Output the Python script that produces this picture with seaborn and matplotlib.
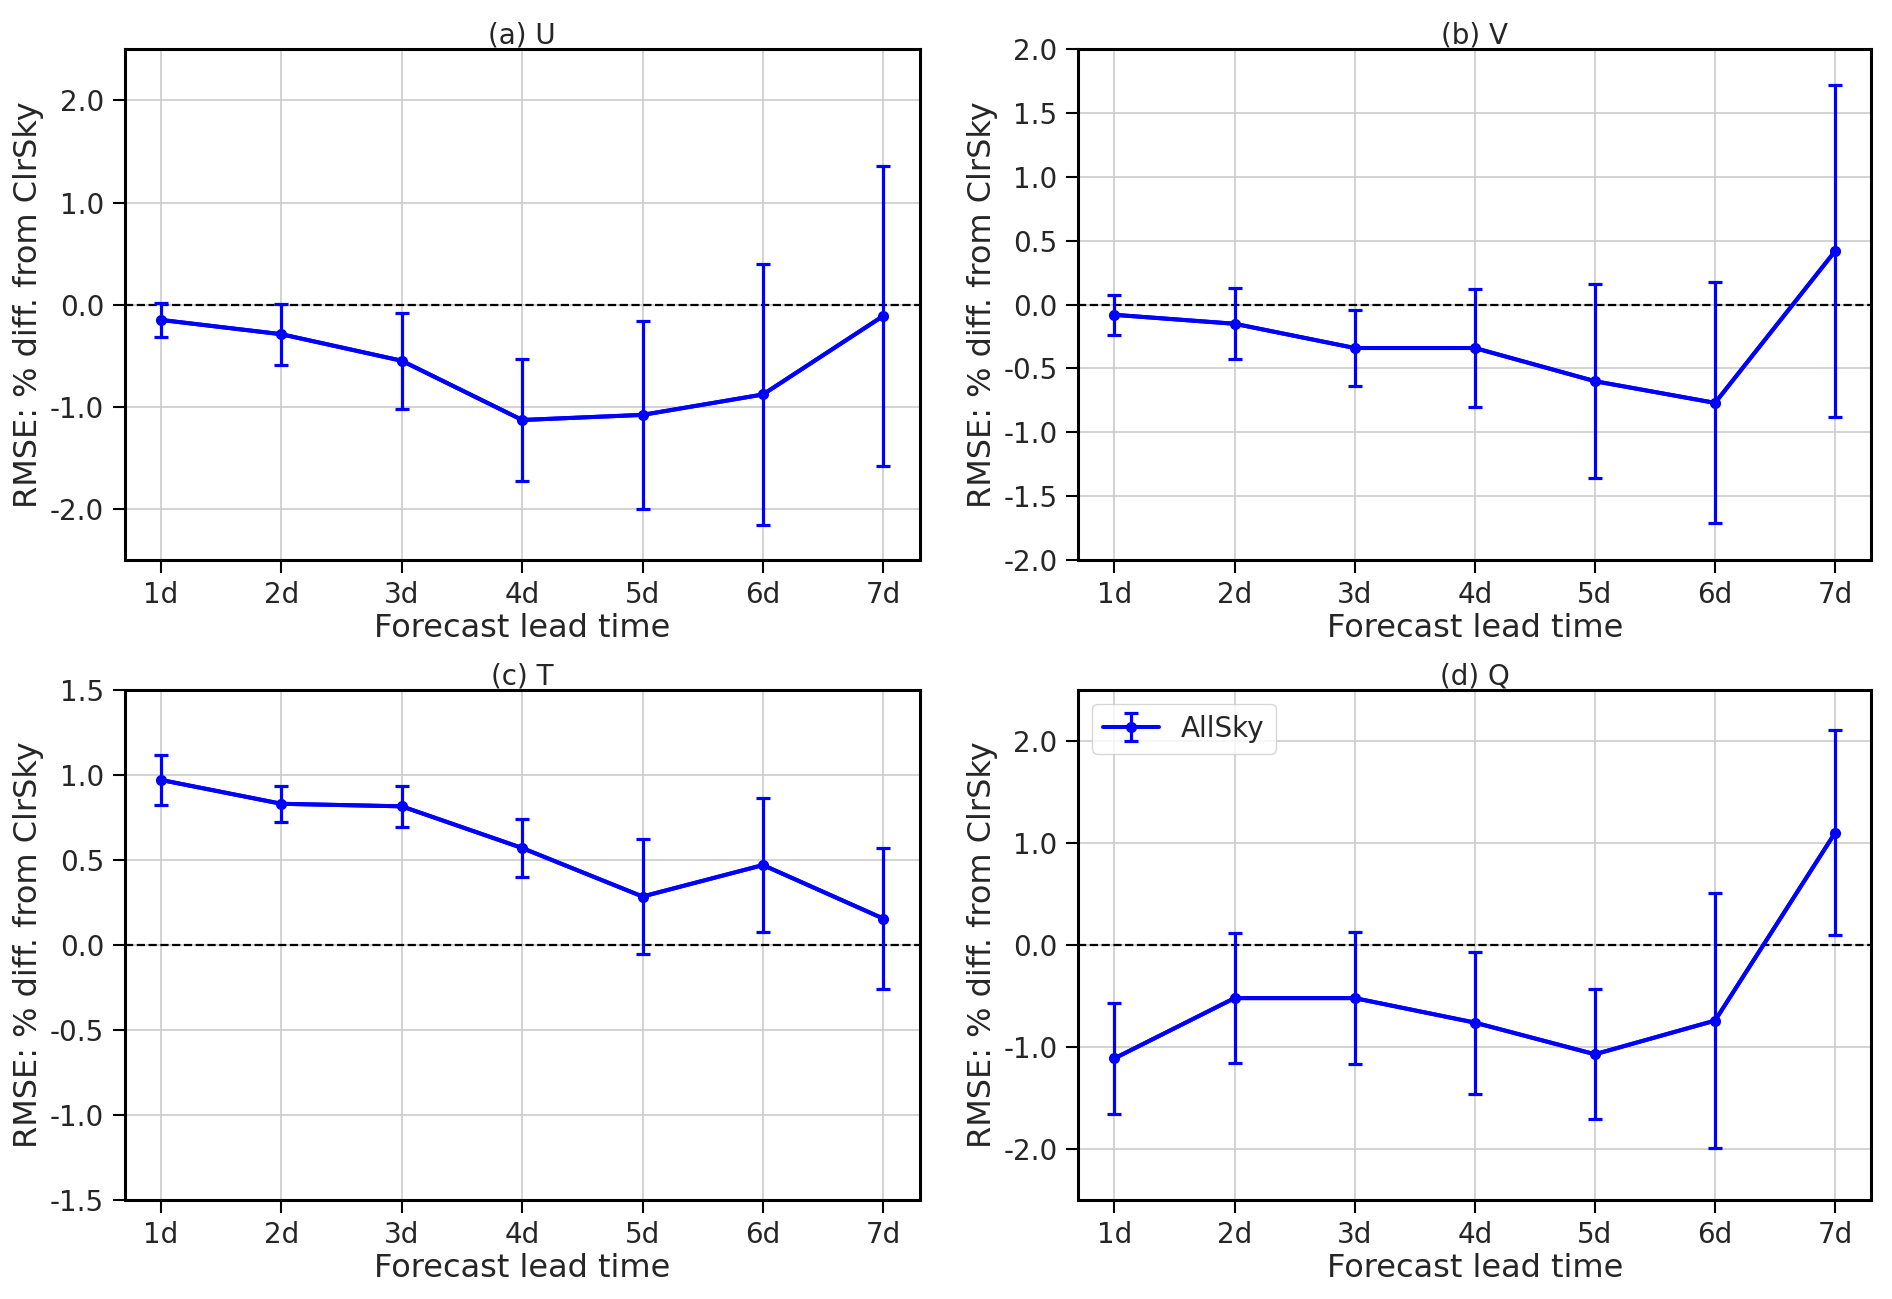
import numpy as np
import pandas as pd
import matplotlib
matplotlib.use("Agg")
import matplotlib.pyplot as plt
import seaborn as sns

lead_labels = ["1d", "2d", "3d", "4d", "5d", "6d", "7d"]
lead_pos = [1, 2, 3, 4, 5, 6, 7]

u_mean = [-0.15, -0.29, -0.55, -1.13, -1.08, -0.88, -0.11]
u_err = [0.17, 0.30, 0.47, 0.60, 0.92, 1.28, 1.47]

v_mean = [-0.08, -0.15, -0.34, -0.34, -0.60, -0.77, 0.42]
v_err = [0.155, 0.28, 0.295, 0.46, 0.76, 0.945, 1.30]

t_mean = [0.97, 0.83, 0.815, 0.57, 0.285, 0.47, 0.155]
t_err = [0.145, 0.105, 0.12, 0.17, 0.34, 0.395, 0.415]

q_mean = [-1.11, -0.52, -0.52, -0.76, -1.07, -0.74, 1.10]
q_err = [0.545, 0.64, 0.645, 0.695, 0.635, 1.245, 1.005]

titles = ["(a) U", "(b) V", "(c) T", "(d) Q"]
ylims = [(-2.5, 2.5), (-2.0, 2.0), (-1.5, 1.5), (-2.5, 2.5)]
ysteps = [1.0, 0.5, 0.5, 1.0]
series_label = "AllSky"
ylabel = "RMSE: % diff. from ClrSky"
xlabel = "Forecast lead time"

sns.set_theme(style="whitegrid")
plt.rcParams["font.family"] = ["DejaVu Sans"]

fig = plt.figure(figsize=(18.92, 12.99), dpi=100)
rects = [
    [0.066, 0.569, 0.420, 0.393],
    [0.570, 0.569, 0.419, 0.393],
    [0.066, 0.076, 0.420, 0.393],
    [0.570, 0.076, 0.419, 0.393],
]
data = [(u_mean, u_err), (v_mean, v_err), (t_mean, t_err), (q_mean, q_err)]

for i, (rect, (m, e)) in enumerate(zip(rects, data)):
    ax = fig.add_axes(rect)
    df = pd.DataFrame({"lead": lead_pos, "val": m})
    ax.axhline(0, color="black", ls="--", lw=1.6, zorder=1)
    sns.lineplot(data=df, x="lead", y="val", ax=ax, color="#0000ff",
                 lw=2.9, marker="o", markersize=7, markeredgewidth=0,
                 legend=False, zorder=3)
    cont = ax.errorbar(lead_pos, m, yerr=e, fmt="-o", color="#0000ff",
                       lw=2.9, ms=7, elinewidth=2.3, capsize=5, capthick=2.3,
                       label=series_label, zorder=3)
    lo, hi = ylims[i]
    ax.set_ylim(lo, hi)
    ax.set_yticks(np.arange(lo + (0 if ysteps[i] == 0.5 else 0.5), hi + 1e-9, ysteps[i]))
    ax.yaxis.set_major_formatter(matplotlib.ticker.FormatStrFormatter("%.1f"))
    ax.set_xlim(0.7, 7.3)
    ax.set_xticks(lead_pos)
    ax.set_xticklabels(lead_labels)
    ax.set_title(titles[i], fontsize=20, pad=4)
    ax.set_xlabel(xlabel, fontsize=23, labelpad=3)
    ax.set_ylabel(ylabel, fontsize=23, labelpad=4)
    ax.tick_params(axis="both", which="major", labelsize=20, length=9, width=1.5,
                   direction="out", bottom=True, left=True, color="black", pad=6)
    ax.grid(True, color="#cccccc", lw=1.2)
    for sp in ax.spines.values():
        sp.set_color("black")
        sp.set_linewidth(2.2)
    if i == 3:
        ax.legend(handles=[cont], labels=[series_label], loc="upper left",
                  fontsize=20, frameon=True, handlelength=2.0)

fig.savefig("out.png", dpi=100)
